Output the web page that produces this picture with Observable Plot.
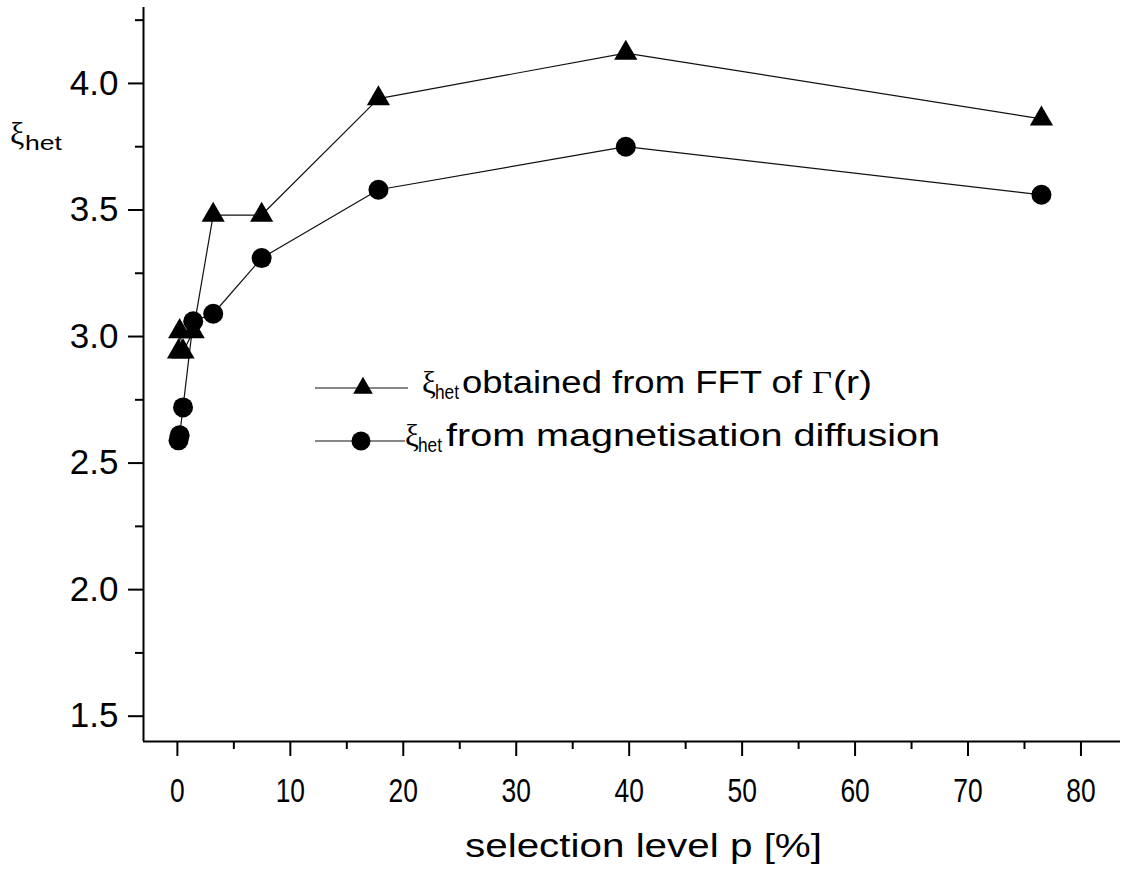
<!DOCTYPE html>
<html>
<head>
<meta charset="utf-8">
<script src="https://cdn.jsdelivr.net/npm/d3@7"></script>
<script src="https://cdn.jsdelivr.net/npm/@observablehq/plot@0.6"></script>
<style>
  body { margin: 0; background: #fff; }
  #chart svg { display: block; }
</style>
</head>
<body>
<div id="chart"></div>
<script>
// Heterogeneity length ξ_het versus selection level p
const selectionLevel = [0.1, 0.2, 0.5, 1.4, 3.17, 7.46, 17.8, 39.7, 76.5];
const xiFFT          = [2.94, 3.02, 2.94, 3.02, 3.48, 3.48, 3.94, 4.12, 3.86];
const xiDiffusion    = [2.59, 2.61, 2.72, 3.06, 3.09, 3.31, 3.58, 3.75, 3.56];

// Axis ticks
const xMajor = [0, 10, 20, 30, 40, 50, 60, 70, 80];
const xMinor = [5, 15, 25, 35, 45, 55, 65, 75];
const yMajor = [1.5, 2.0, 2.5, 3.0, 3.5, 4.0];
const yMinor = [1.75, 2.25, 2.75, 3.25, 3.75, 4.25];
const xDomain = [-3, 83.5];
const yDomain = [1.4, 4.3];

// Texts
const xTitle = "selection level p [%]";
const seriesNames = ["obtained from FFT of ", "from magnetisation diffusion"];

const fft = selectionLevel.map((p, i) => ({p, xi: xiFFT[i]}));
const diffusion = selectionLevel.map((p, i) => ({p, xi: xiDiffusion[i]}));

const sans = "'Liberation Sans', Arial, Helvetica, sans-serif";
const serif = "'Liberation Serif', 'Times New Roman', serif";

const chart = Plot.plot({
  width: 1133,
  height: 880,
  marginLeft: 143,
  marginRight: 13,
  marginTop: 7,
  marginBottom: 139,
  style: {fontFamily: sans, color: "black", background: "white", overflow: "visible"},
  x: {domain: xDomain},
  y: {domain: yDomain},
  marks: [
    Plot.axisY(yMinor, {tickSize: 8, tickFormat: () => "", strokeWidth: 2, label: null}),
    Plot.axisY(yMajor, {tickSize: 15, tickPadding: 10, tickFormat: d3.format(".1f"), fontSize: 35, strokeWidth: 2, label: null}),
    Plot.axisX(xMinor, {tickSize: 8, tickFormat: () => "", strokeWidth: 2, label: null}),
    Plot.axisX(xMajor, {tickSize: 15, tickPadding: 22, tickFormat: d3.format("d"), fontSize: 33, strokeWidth: 2, label: null}),
    Plot.ruleX([xDomain[0]], {strokeWidth: 2}),
    Plot.ruleY([yDomain[0]], {strokeWidth: 2}),
    Plot.line(fft, {x: "p", y: "xi", stroke: "#111", strokeWidth: 1.2}),
    Plot.line(diffusion, {x: "p", y: "xi", stroke: "#111", strokeWidth: 1.2}),
    Plot.dot(fft, {x: "p", y: "xi", symbol: "triangle", r: 8.6, fill: "black"}),
    Plot.dot(diffusion, {x: "p", y: "xi", r: 10, fill: "black"})
  ]
});

document.getElementById("chart").append(chart);

const svg = d3.select(chart);

// x tick labels use a condensed face
svg.selectAll("g[aria-label='x-axis tick label'] text").each(function() {
  const t = d3.select(this);
  t.attr("transform", (t.attr("transform") || "") + " scale(0.8,1)");
});

// extra annotations are left-anchored
const notes = svg.append("g").attr("text-anchor", "start").attr("font-family", sans);

// x-axis title
notes.append("text")
  .attr("x", 465).attr("y", 857)
  .attr("font-size", 33)
  .attr("textLength", 357).attr("lengthAdjust", "spacingAndGlyphs")
  .text(xTitle);

// y-axis title: ξ_het
const yt = notes.append("text").attr("x", 10).attr("y", 144);
yt.append("tspan").attr("font-family", serif).attr("font-size", 32).text("ξ");
yt.append("tspan").attr("x", 25).attr("font-size", 21).attr("dy", 6).attr("textLength", 37)
  .attr("lengthAdjust", "spacingAndGlyphs").text("het");

// legend
const rows = [
  {y: 388, symbol: d3.symbolTriangle, size: 167, markX: 363, lineEnd: 408, xiX: 422, textX: 462, textEnd: 872, name: seriesNames[0], gamma: true},
  {y: 441, symbol: d3.symbolCircle, size: Math.PI * 9.5 * 9.5, markX: 361, lineEnd: 405, xiX: 405, textX: 446, textEnd: 940, name: seriesNames[1], gamma: false}
];
rows.forEach(r => {
  notes.append("line").attr("x1", 315).attr("x2", r.lineEnd).attr("y1", r.y).attr("y2", r.y)
    .attr("stroke", "#111").attr("stroke-width", 1.2);
  notes.append("path").attr("d", d3.symbol(r.symbol, r.size)())
    .attr("transform", `translate(${r.markX},${r.y})`)
    .attr("fill", "black");
  const base = r.y + 5;
  notes.append("text").attr("x", r.xiX).attr("y", base)
    .attr("font-family", serif).attr("font-size", 31).text("ξ");
  notes.append("text").attr("x", r.xiX + 13).attr("y", base + 6)
    .attr("font-size", 20).attr("textLength", 24).attr("lengthAdjust", "spacingAndGlyphs").text("het");
  const mainEnd = r.gamma ? r.textEnd - 60 : r.textEnd;
  notes.append("text").attr("x", r.textX).attr("y", base).attr("font-size", 31)
    .attr("textLength", mainEnd - r.textX).attr("lengthAdjust", "spacingAndGlyphs").text(r.name);
  if (r.gamma) {
    notes.append("text").attr("x", mainEnd).attr("y", base).attr("font-family", serif)
      .attr("font-size", 31).attr("textLength", 20).attr("lengthAdjust", "spacingAndGlyphs").text("Γ");
    notes.append("text").attr("x", mainEnd + 21).attr("y", base).attr("font-size", 31)
      .attr("textLength", 39).attr("lengthAdjust", "spacingAndGlyphs").text("(r)");
  }
});
</script>
</body>
</html>
